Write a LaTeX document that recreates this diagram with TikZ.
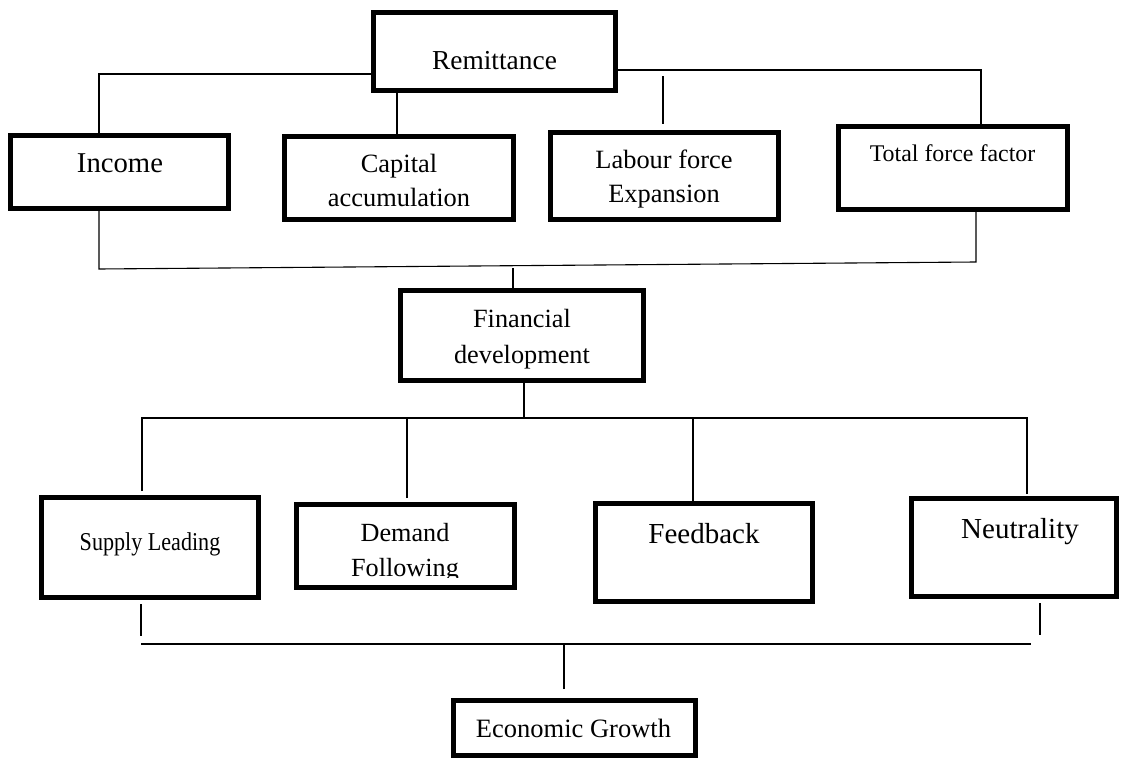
\documentclass[tikz,border=0pt]{standalone}
\usepackage{fontspec}
\setmainfont{Liberation Serif}
\newcommand{\fsz}[2]{\fontsize{#1}{#2}\selectfont}
\tikzset{
  box/.style={draw,line width=5pt,inner sep=0pt},
  ln/.style={line width=1.1pt},
  txt/.style={anchor=base,inner sep=0pt,align=center}
}
\begin{document}
\begin{tikzpicture}[x=1pt,y=-1pt]
\useasboundingbox (0,0) rectangle (1123,759);
% boxes
\node[box,minimum width=242pt,minimum height=78pt] (rem) at (494.5,51.5) {};
\node[box,minimum width=218pt,minimum height=73pt] (inc) at (119.5,172) {};
\node[box,minimum width=229pt,minimum height=83pt] (cap) at (399,178) {};
\node[box,minimum width=228pt,minimum height=87pt] (lab) at (664.5,176) {};
\node[box,minimum width=229pt,minimum height=83pt] (tff) at (953,168) {};
\node[box,minimum width=243pt,minimum height=90pt] (fin) at (522,335.5) {};
\node[box,minimum width=217pt,minimum height=100pt] (sup) at (150,547.5) {};
\node[box,minimum width=218pt,minimum height=83pt] (dem) at (405.5,546) {};
\node[box,minimum width=217pt,minimum height=98pt] (fb) at (704,552.5) {};
\node[box,minimum width=205pt,minimum height=98pt] (neu) at (1014,547.5) {};
\node[box,minimum width=242pt,minimum height=55pt] (eg) at (574.5,728) {};
% texts (base = last line)
\node[txt,font={\fsz{27.4}{32}}] (remt) at (494.5,70) {Remittance};
\node[txt,font={\fsz{28.7}{34}}] (inct) at (120,173) {Income};
\node[txt,font={\fsz{26.4}{34}}] (capt) at (399,207) {Capital\\accumulation};
\node[txt,font={\fsz{26.4}{34}}] (labt) at (664,203) {Labour force\\Expansion};
\node[txt,font={\fsz{23.9}{28}}] (tfft) at (952.5,162) {Total force factor};
\node[txt,font={\fsz{26.3}{36}}] (fint) at (522,363) {Financial\\development};
\node[txt,font={\fsz{25.7}{30}},xscale=0.86,transform shape] (supt) at (150,550) {Supply Leading};
\begin{scope}
\clip (294,480) rectangle (517,577);
\node[txt,font={\fsz{26.2}{35}}] (demt) at (405,576) {Demand\\Following};
\end{scope}
\node[txt,font={\fsz{29}{34}}] (fbt) at (704,543) {Feedback};
\node[txt,font={\fsz{29}{34}}] (neut) at (1020,538) {Neutrality};
\node[txt,font={\fsz{26.5}{32}}] (egt) at (573.5,737) {Economic Growth};
% remittance to the four factors
\draw[ln] ([yshift=-22.5pt]rem.west) -| ([xshift=-20.5pt]inc.north);
\draw[ln] ([xshift=-2pt]cap.north) -- ++(0pt,41pt);
\draw[ln] ([yshift=-18.5pt]rem.east) -| ([xshift=28pt]tff.north);
\draw[ln] ([xshift=-1.5pt,yshift=6pt]lab.north) -- ++(0pt,48pt);
% factors to financial development
\draw[ln] ([xshift=-20.5pt]inc.south) -- ++(0pt,-58pt) coordinate (j1)
  -- ([xshift=23pt,yshift=-50pt]tff.south) coordinate (j2) -- ([xshift=23pt]tff.south);
\draw[ln] ([xshift=-9pt]fin.north) -- ++(0pt,20pt);
% financial development to the four hypotheses
\draw[ln] ([xshift=2pt]fin.south) -- ++(0pt,-35pt) coordinate (b2);
\draw[ln] ([xshift=-8pt,yshift=4pt]sup.north) |- (b2);
\draw[ln] ([xshift=13pt,yshift=2pt]neu.north) |- (b2);
\draw[ln] ([xshift=1.5pt,yshift=4pt]dem.north) -- ++(0pt,80pt);
\draw[ln] ([xshift=-11pt]fb.north) -- ++(0pt,83pt);
% hypotheses to growth
\draw[ln] ([xshift=-9pt,yshift=-4pt]sup.south) -- ++(0pt,-32pt);
\draw[ln] ([xshift=26pt,yshift=-4pt]neu.south) -- ++(0pt,-32pt);
\draw[ln] ([xshift=-10.5pt,yshift=9pt]eg.north) -- ++(0pt,45pt) coordinate (b3);
\draw[ln] (b3) -- ++(-423pt,0pt);
\draw[ln] (b3) -- ++(467pt,0pt);
\end{tikzpicture}
\end{document}
